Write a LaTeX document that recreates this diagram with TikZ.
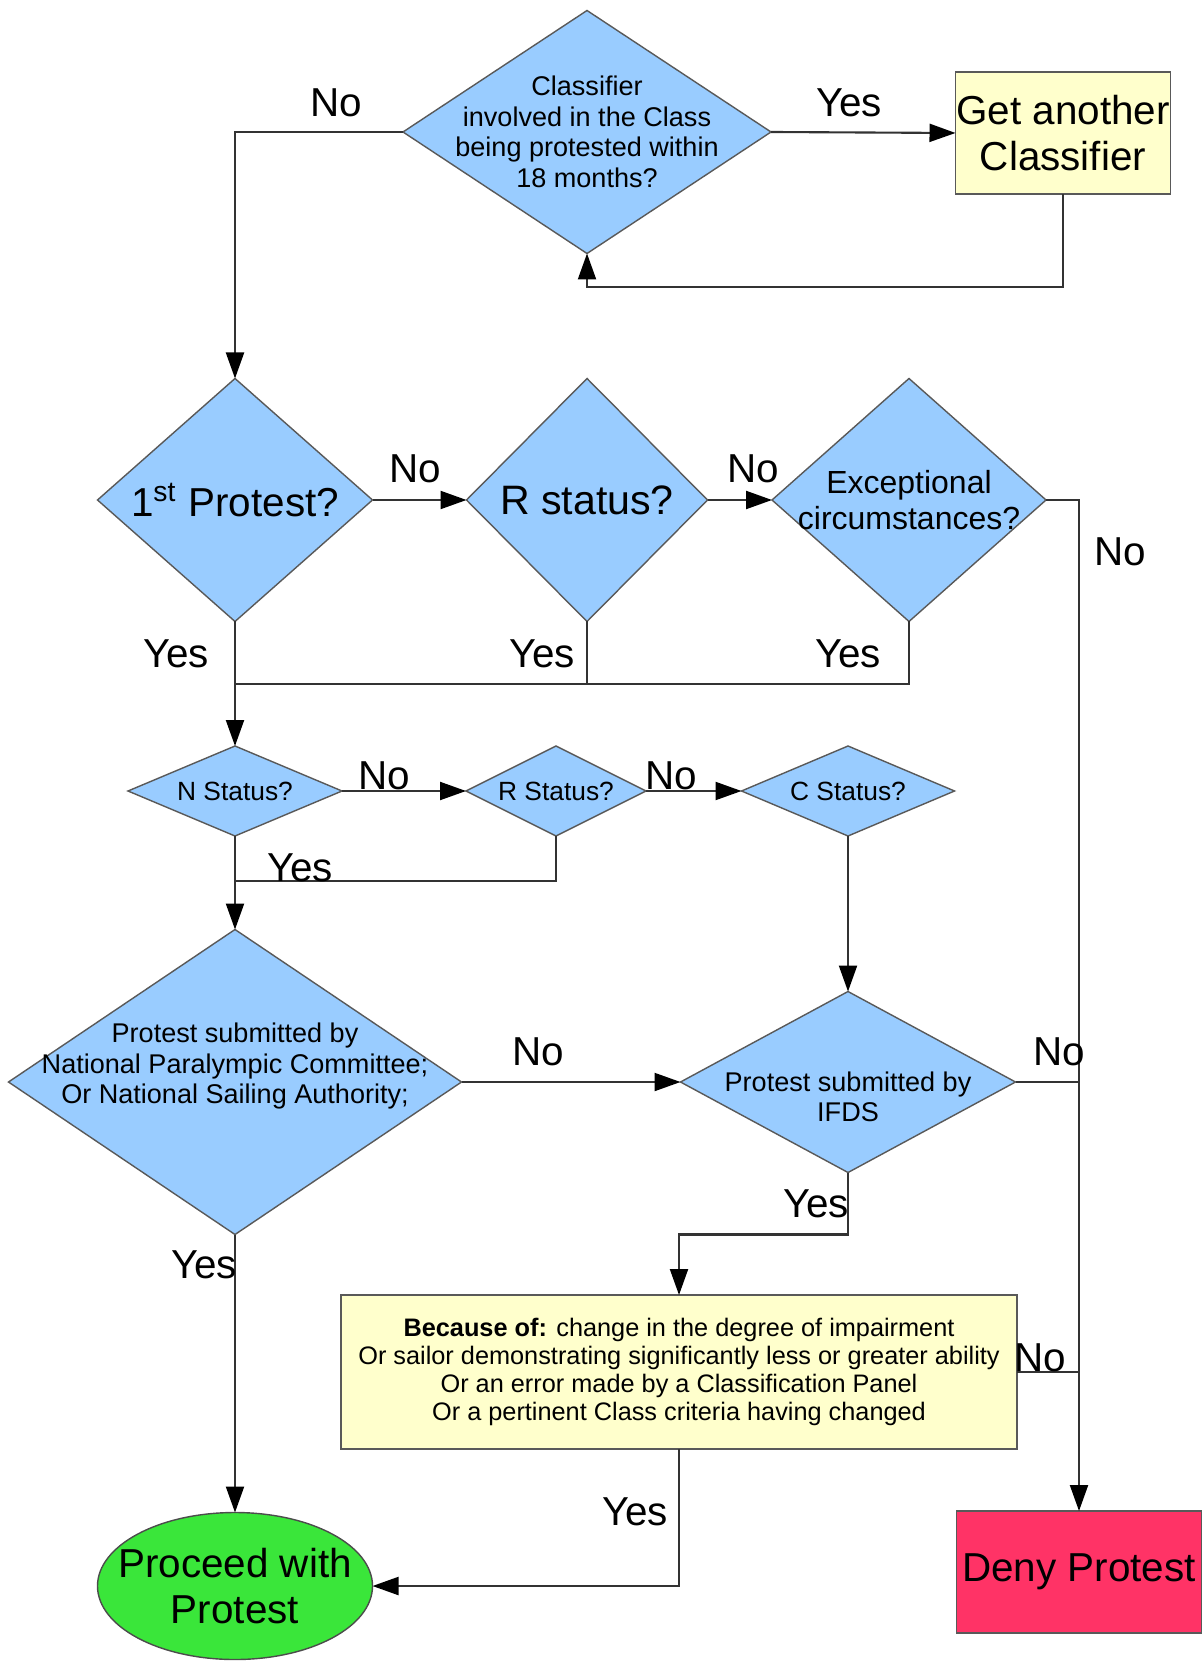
\documentclass[tikz,border=0pt]{standalone}
\usepackage{fontspec}
\setmainfont{Liberation Sans}
\usepackage{xcolor}
\usepackage{tikz}
\usetikzlibrary{shapes.geometric}
\usetikzlibrary{arrows.meta}

\definecolor{diablue}{HTML}{99CCFF}
\definecolor{boxyellow}{HTML}{FFFFCC}
\definecolor{okgreen}{HTML}{3AE63A}
\definecolor{denyred}{HTML}{FF3366}

\tikzset{
  decision/.style={diamond, draw=black!65, fill=diablue, inner sep=0pt, outer sep=0pt},
  yellowbox/.style={rectangle, draw=black!65, fill=boxyellow, inner sep=0pt, outer sep=0pt},
  connector/.style={draw=black!80, line width=0.6pt},
  arrowline/.style={connector, -{Triangle[length=2.6mm,width=1.8mm,black]}},
  answer/.style={inner sep=0pt, font=\fontsize{11.5}{13.2}\selectfont},
  bigtext/.style={align=center, inner sep=0pt, font=\fontsize{11.5}{13.2}\selectfont},
  smalltext/.style={align=center, inner sep=0pt, font=\fontsize{7.7}{8.7}\selectfont},
}

\begin{document}
\begin{tikzpicture}
       \useasboundingbox (0,0) rectangle (12.03,-16.61);
        %DIAMOND ATAS
       \node[decision, minimum width=3.68cm, minimum height=2.43cm] (classifier) at (5.87,-1.32) {};
       \node[smalltext] (classifiertext) at (classifier) {Classifier\\involved in the Class\\being protested within\\18 months?};
       \node[yellowbox, bigtext, minimum width=2.15cm, minimum height=1.22cm] (another) at (10.63,-1.33) {Get another\\Classifier};
        %BARIS KEDUA
       \node[decision, minimum width=2.75cm, minimum height=2.43cm] (first) at (2.35,-5.00) {};
       \node[bigtext] (firsttext) at (first) {1\textsuperscript{st} Protest?};
       \node[decision, minimum width=2.41cm, minimum height=2.43cm] (rstatus) at (5.87,-5.00) {};
       \node[bigtext, font=\fontsize{11.7}{13.2}\selectfont] (rstatustext) at (rstatus) {R status?};
       \node[decision, minimum width=2.74cm, minimum height=2.43cm] (except) at (9.09,-5.00) {};
       \node[smalltext, font=\fontsize{9.1}{10.2}\selectfont] (excepttext) at (except) {Exceptional\\circumstances?};
        %BARIS KETIGA
       \node[decision, minimum width=2.14cm, minimum height=0.90cm] (nstat) at (2.35,-7.91) {};
       \node[smalltext, font=\fontsize{7.5}{8.7}\selectfont] (nstattext) at (nstat) {N Status?};
       \node[decision, minimum width=1.80cm, minimum height=0.90cm] (rstat) at (5.56,-7.91) {};
       \node[smalltext, font=\fontsize{7.5}{8.7}\selectfont] (rstattext) at (rstat) {R Status?};
       \node[decision, minimum width=2.13cm, minimum height=0.90cm] (cstat) at (8.48,-7.91) {};
       \node[smalltext, font=\fontsize{7.5}{8.7}\selectfont] (cstattext) at (cstat) {C Status?};
        %BARIS KEEMPAT
       \node[decision, minimum width=4.53cm, minimum height=3.05cm] (npc) at (2.35,-10.82) {};
       \node[smalltext] (npctext) at (2.35,-10.66) {Protest submitted by\\National Paralympic Committee;\\Or National Sailing Authority;};
       \node[decision, minimum width=3.35cm, minimum height=1.81cm] (ifds) at (8.48,-10.82) {};
       \node[smalltext] (ifdstext) at (8.48,-10.97) {Protest submitted by\\IFDS};
        %KOTAK ALASAN
       \node[yellowbox, minimum width=6.76cm, minimum height=1.54cm] (because) at (6.79,-13.72) {};
       \node[smalltext, font=\fontsize{7.2}{7.9}\selectfont] (becausetext) at (because) {\textbf{Because of:} change in the degree of impairment\\Or sailor demonstrating significantly less or greater ability\\Or an error made by a Classification Panel\\Or a pertinent Class criteria having changed};
        %HASIL
       \node[ellipse, draw=black!70, fill=okgreen, inner sep=0pt, outer sep=0pt, minimum width=2.75cm, minimum height=1.47cm] (proceed) at (2.35,-15.86) {};
       \node[bigtext] (proceedtext) at (proceed) {Proceed with\\Protest};
       \node[rectangle, draw=black!65, fill=denyred, inner sep=0pt, outer sep=0pt, minimum width=2.45cm, minimum height=1.22cm, bigtext] (deny) at (10.79,-15.72) {Deny Protest};
        %GARIS
       \draw[arrowline] (classifier.east) -- (another.west);
       \draw[arrowline] (another.south) -- ++(0,-0.93) -| (classifier.south);
       \draw[arrowline] (classifier.west) -| (first.north);
       \draw[arrowline] (first.east) -- (rstatus.west);
       \draw[arrowline] (rstatus.east) -- (except.west);
       \draw[arrowline] (except.east) -| (deny.north);
       \coordinate (merge1) at (2.35,-6.84);
       \draw[connector] (rstatus.south) |- (merge1);
       \draw[connector] (except.south) |- (merge1);
       \draw[arrowline] (first.south) -- (nstat.north);
       \draw[arrowline] (nstat.east) -- (rstat.west);
       \draw[arrowline] (rstat.east) -- (cstat.west);
       \coordinate (merge2) at (2.35,-8.81);
       \draw[connector] (rstat.south) |- (merge2);
       \draw[arrowline] (nstat.south) -- (npc.north);
       \draw[arrowline] (cstat.south) -- (ifds.north);
       \draw[arrowline] (npc.east) -- (ifds.west);
       \draw[connector] (ifds.east) -- (ifds.east -| deny.north);
       \draw[arrowline] (ifds.south) -- ++(0,-0.62) -| (because.north);
       \draw[connector] (because.east) -- (because.east -| deny.north);
       \draw[arrowline] (because.south) |- (proceed.east);
       \draw[arrowline] (npc.south) -- (proceed.north);
        %LABEL YA TIDAK
       \node[answer] (notop) at (3.36,-1.03) {No};
       \node[answer] (yestop) at (8.49,-1.03) {Yes};
       \node[answer] (nofirst) at (4.15,-4.69) {No};
       \node[answer] (norstatus) at (7.53,-4.69) {No};
       \node[answer] (noexcept) at (11.20,-5.52) {No};
       \node[answer] (yesfirst) at (1.76,-6.54) {Yes};
       \node[answer] (yesrstatus) at (5.42,-6.54) {Yes};
       \node[answer] (yesexcept) at (8.48,-6.54) {Yes};
       \node[answer] (nonstat) at (3.84,-7.76) {No};
       \node[answer] (norstat) at (6.71,-7.76) {No};
       \node[answer] (yesnstat) at (3.00,-8.68) {Yes};
       \node[answer] (nonpc) at (5.38,-10.52) {No};
       \node[answer] (noifds) at (10.59,-10.52) {No};
       \node[answer] (yesifds) at (8.16,-12.04) {Yes};
       \node[answer] (nobecause) at (10.40,-13.58) {No};
       \node[answer] (yesbecause) at (6.35,-15.12) {Yes};
       \node[answer] (yesnpc) at (2.04,-12.65) {Yes};
    \end{tikzpicture}
\end{document}
